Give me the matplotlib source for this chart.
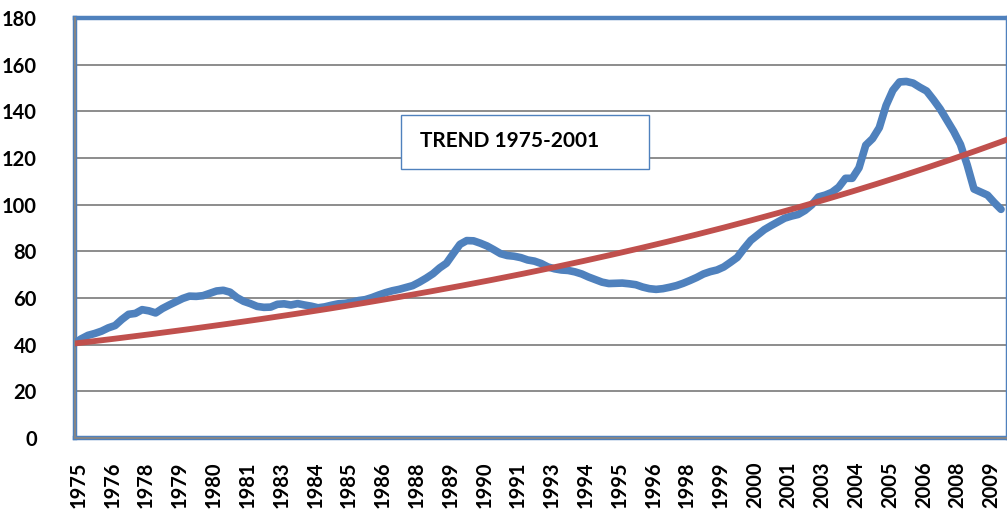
import numpy as np
import matplotlib
matplotlib.use("Agg")
import matplotlib.pyplot as plt
from matplotlib.patches import Rectangle
import matplotlib.transforms as mtransforms

# Quarterly index values, 1975Q3 onwards
index_values = [
    40.6, 42.5, 44.0, 44.8, 45.8, 47.2, 48.2, 50.8, 53.0, 53.4,
    55.0, 54.5, 53.6, 55.5, 57.0, 58.4, 59.8, 60.8, 60.7, 61.0,
    62.0, 63.0, 63.3, 62.5, 60.2, 58.6, 57.6, 56.4, 56.0, 56.1,
    57.3, 57.5, 57.0, 57.6, 57.0, 56.5, 55.8, 56.2, 56.9, 57.5,
    57.7, 58.2, 58.9, 59.3, 60.2, 61.3, 62.3, 63.1, 63.7, 64.5,
    65.3, 66.8, 68.5, 70.4, 72.9, 74.9, 79.0, 83.0, 84.6, 84.5,
    83.5, 82.3, 80.7, 79.0, 78.2, 77.9, 77.3, 76.3, 75.8, 74.8,
    73.3, 72.5, 72.0, 71.8, 71.2, 70.3, 69.0, 67.9, 66.8, 66.2,
    66.3, 66.4, 66.1, 65.7, 64.7, 64.0, 63.7, 64.0, 64.6, 65.3,
    66.3, 67.5, 68.8, 70.3, 71.3, 72.0, 73.3, 75.3, 77.4, 81.2,
    84.7, 87.0, 89.3, 91.0, 92.6, 94.2, 95.1, 95.8, 97.5, 99.9,
    103.3, 104.1, 105.3, 107.5, 111.3, 111.3, 115.8, 125.5, 128.3, 133.0,
    142.5, 149.0, 152.6, 152.8, 152.1, 150.3, 148.7, 145.0, 141.0, 136.2,
    131.4, 125.8, 117.0, 106.7, 105.4, 104.1, 100.9, 98.0,
]

tick_labels = ['1975', '1976', '1978', '1979', '1980', '1981', '1983', '1984',
               '1985', '1986', '1988', '1989', '1990', '1991', '1993', '1994',
               '1995', '1996', '1998', '1999', '2000', '2001', '2003', '2004',
               '2005', '2006', '2008', '2009']
label_every = 5          # quarters between labels
# exponential trend (1975-2001 trend extended)
trend_start_value = 40.5   # at first quarter
trend_end_value = 128.0    # at right edge of the plot (quarter 138)
box_text = "TREND 1975-2001"
y_ticks = [0, 20, 40, 60, 80, 100, 120, 140, 160, 180]

BLUE = '#4F81BD'
RED = '#C0504D'
GRID = '#8C8C8C'
FONT = 'Lato'

W, H = 1007, 521
fig = plt.figure(figsize=(W / 100, H / 100), dpi=100)

x = np.arange(len(index_values))
y = np.array(index_values)

x_end = 138
tx = np.linspace(0, x_end, 300)
growth = np.log(trend_end_value / trend_start_value) / x_end
trend = trend_start_value * np.exp(growth * tx)

px_per_q = 6.763
left_px = 74.5
ax = fig.add_axes([left_px / W, (H - 438) / H, x_end * px_per_q / W, 420 / H])
ax.set_xlim(0, x_end)
ax.set_ylim(0, 180)

ax.set_yticks(y_ticks)
ax.set_yticklabels([str(v) for v in y_ticks], fontfamily=FONT, fontweight='bold', fontsize=14.5)
ax.set_xticks(np.arange(len(tick_labels)) * label_every)
ax.set_xticklabels(tick_labels, rotation=90, fontfamily=FONT, fontweight='bold',
                   fontsize=14.5, va='top', ha='center')
ax.tick_params(axis='both', length=0)
ax.tick_params(axis='y', pad=27)
ax.tick_params(axis='x', pad=17)
offset = mtransforms.ScaledTranslation(4 / 100, 0, fig.dpi_scale_trans)
for lab in ax.get_xticklabels():
    lab.set_transform(lab.get_transform() + offset)

ax.grid(axis='y', color=GRID, lw=1.4, zorder=1)
ax.grid(axis='x', visible=False)
ax.set_axisbelow(True)

for s in ax.spines.values():
    s.set_color(BLUE)
    s.set_linewidth(3.2)
    s.set_zorder(2.5)
ax.axhline(0, color='#868686', lw=1.4, zorder=2.6, clip_on=False)
ax.axvline(0, color='#868686', lw=1.4, zorder=2.6, clip_on=False)

ax.plot(x, y, color=BLUE, lw=5.5, solid_capstyle='round', solid_joinstyle='round', zorder=4)
ax.plot(tx, trend, color=RED, lw=4.2, solid_capstyle='round', zorder=5)

# text box
bx0, by0, bx1, by1 = 401, 115, 649, 169
fig.patches.append(Rectangle((bx0 / W, 1 - by1 / H), (bx1 - bx0) / W, (by1 - by0) / H,
                             transform=fig.transFigure, facecolor='white',
                             edgecolor=BLUE, lw=1.0, zorder=6))
fig.text(420 / W, 1 - 141 / H, box_text, fontfamily=FONT, fontweight='bold',
         fontsize=15, va='center', ha='left', zorder=7)

fig.savefig('out.png', dpi=100)
